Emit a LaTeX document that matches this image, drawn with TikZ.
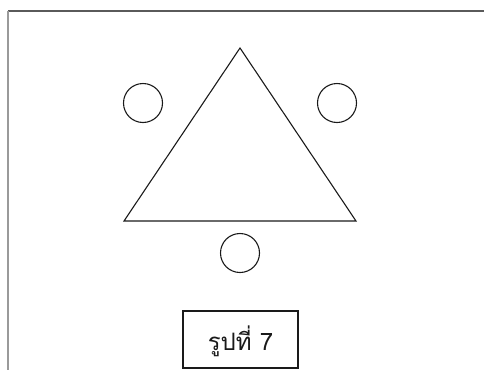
\documentclass[tikz,border=0pt]{standalone}
\usepackage{fontspec}
\newfontfamily\thaifont[Script=Thai]{Loma}
\usetikzlibrary{positioning,calc}
\definecolor{ink}{HTML}{1A1A1A}
\definecolor{frameC}{HTML}{5A5A5A}
\definecolor{frameL}{HTML}{9A9A9A}
\tikzset{
  dot/.style={circle,draw=ink,line width=1.1pt,minimum size=39pt,inner sep=0pt},
  tri/.style={draw=ink,line width=1.1pt,line join=miter},
  caption/.style={draw=ink,line width=1.1pt,minimum width=115pt,minimum height=57pt,
    font=\thaifont\fontsize{24}{27}\selectfont,text=ink,inner sep=0pt,
    text height=21pt,text depth=0pt},
}
\begin{document}
\begin{tikzpicture}[x=1pt,y=-1pt]
\useasboundingbox (0,0) rectangle (484,370);

% ================= FRAME =================
\coordinate (fTL) at (8,11);
\coordinate (fTR) at (484,11);
\coordinate (fBL) at (8,370);
\draw[frameC,line width=1.2pt] (fTL) -- (fTR);
\draw[frameL,line width=1.2pt] (fTL) -- (fBL);

% ================= TRIANGLE =================
\coordinate (apex) at (240,48);
\coordinate (baseL) at (124,221);
\coordinate (baseR) at (356,221);
\draw[tri] (apex) -- (baseR) -- (baseL) -- cycle;

% ================= CIRCLES =================
\node[dot] (cL) at (143,103) {};
\node[dot] (cR) at (337,103) {};
\node[dot] (cB) at (240,253) {};

% ================= CAPTION =================
\node[caption] (fig) at (240.5,339.5) {รูปที่ 7};

\end{tikzpicture}
\end{document}
